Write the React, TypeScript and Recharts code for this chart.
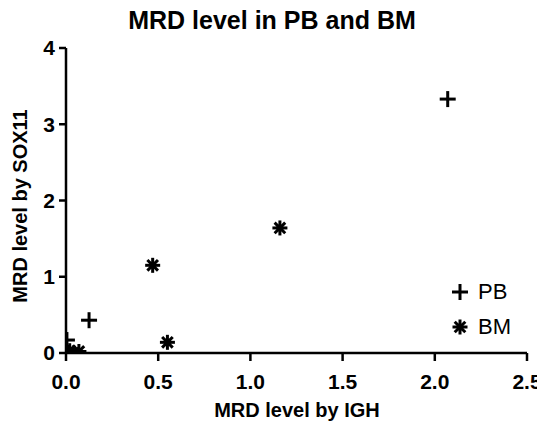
import React from 'react';
import { ScatterChart, Scatter, XAxis, YAxis } from 'recharts';

const pbX = [2.07, 0.125, 0.005, 0.0, 0.01];
const pbY = [3.33, 0.43, 0.17, 0.03, 0.0];
const bmX = [1.16, 0.47, 0.55, 0.0, 0.02, 0.04, 0.07];
const bmY = [1.64, 1.15, 0.14, 0.01, 0.03, 0.0, 0.02];
const xTicks = [0, 0.5, 1.0, 1.5, 2.0, 2.5];
const yTicks = [0, 1, 2, 3, 4];
const seriesNames = ['PB', 'BM'];

const pbData = pbX.map((x, i) => ({ x, y: pbY[i] }));
const bmData = bmX.map((x, i) => ({ x, y: bmY[i] }));

const FONT = '"Liberation Sans", Arial, Helvetica, sans-serif';

const PlusShape = (props: any) => {
  const { cx, cy } = props;
  const r = 8;
  return (
    <g>
      <line x1={cx - r} y1={cy} x2={cx + r} y2={cy} stroke="#000" strokeWidth={3} />
      <line x1={cx} y1={cy - r} x2={cx} y2={cy + r} stroke="#000" strokeWidth={3} />
    </g>
  );
};

const StarShape = (props: any) => {
  const { cx, cy } = props;
  const r = 7.5;
  const d = r * Math.SQRT1_2;
  return (
    <g stroke="#000" strokeWidth={3}>
      <line x1={cx - r} y1={cy} x2={cx + r} y2={cy} />
      <line x1={cx} y1={cy - r} x2={cx} y2={cy + r} />
      <line x1={cx - d} y1={cy - d} x2={cx + d} y2={cy + d} />
      <line x1={cx - d} y1={cy + d} x2={cx + d} y2={cy - d} />
      <circle cx={cx} cy={cy} r={3.5} fill="#000" stroke="none" />
    </g>
  );
};

const legendShapes = [PlusShape, StarShape];

export default function App() {
  return (
    <div style={{ position: 'relative', width: 537, height: 415, background: '#fff' }}>
      <ScatterChart
        width={537}
        height={415}
        margin={{ top: 40, right: 18, bottom: 0, left: 0 }}
      >
        <XAxis
          type="number"
          dataKey="x"
          domain={[0, 2.5]}
          ticks={xTicks}
          tickFormatter={(v: number) => v.toFixed(1)}
          height={70}
          tickSize={8}
          tickMargin={13}
          axisLine={{ stroke: '#000', strokeWidth: 2.5 }}
          tickLine={{ stroke: '#000', strokeWidth: 2.5 }}
          tick={{ fill: '#000', fontSize: 21, fontWeight: 'bold', fontFamily: FONT }}
          allowDataOverflow
        />
        <YAxis
          type="number"
          dataKey="y"
          domain={[0, 4]}
          ticks={yTicks}
          width={58}
          tickSize={7}
          tickMargin={4}
          axisLine={{ stroke: '#000', strokeWidth: 2.5 }}
          tickLine={{ stroke: '#000', strokeWidth: 2.5 }}
          tick={{ fill: '#000', fontSize: 21, fontWeight: 'bold', fontFamily: FONT }}
          allowDataOverflow
        />
        <Scatter name="PB" data={pbData} shape={<PlusShape />} isAnimationActive={false} />
        <Scatter name="BM" data={bmData} shape={<StarShape />} isAnimationActive={false} />
      </ScatterChart>
      <div
        style={{
          position: 'absolute', left: 442, top: 266,
          fontFamily: FONT, fontSize: 22, color: '#000',
        }}
      >
        {seriesNames.map((name, i) => {
          const Shape = legendShapes[i];
          return (
            <div key={name} style={{ display: 'flex', alignItems: 'center', height: 35 }}>
              <svg width={20} height={20} style={{ marginRight: 8 }}>
                <Shape cx={10} cy={10} />
              </svg>
              <span>{name}</span>
            </div>
          );
        })}
      </div>
      <div
        style={{
          position: 'absolute', left: 264, top: 12, transform: 'translate(-50%, -50%)',
          whiteSpace: 'nowrap', fontFamily: FONT, fontWeight: 'bold', fontSize: 25, color: '#000',
        }}
      >
        MRD level in PB and BM
      </div>
      <div
        style={{
          position: 'absolute', left: 289, top: 402, transform: 'translate(-50%, -50%)',
          whiteSpace: 'nowrap', fontFamily: FONT, fontWeight: 'bold', fontSize: 20, color: '#000',
        }}
      >
        MRD level by IGH
      </div>
      <div
        style={{
          position: 'absolute', left: 12, top: 198, transform: 'translate(-50%, -50%) rotate(-90deg)',
          whiteSpace: 'nowrap', fontFamily: FONT, fontWeight: 'bold', fontSize: 20, color: '#000',
        }}
      >
        MRD level by SOX11
      </div>
    </div>
  );
}
